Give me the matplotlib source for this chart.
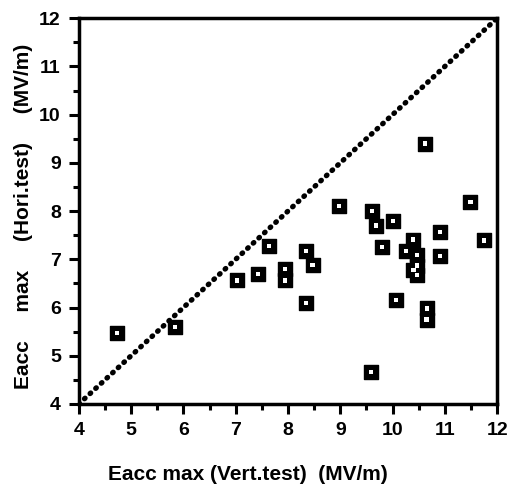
import matplotlib.pyplot as plt
from matplotlib.ticker import MultipleLocator

# Eacc max from vertical test vs horizontal test (MV/m)
vert_test = [4.73, 5.84, 7.02, 7.42, 7.63, 7.95, 7.95, 8.34, 8.47, 8.34,
             8.97, 9.61, 9.69, 10.01, 9.80, 9.59, 10.62, 11.49, 10.90, 11.75,
             10.90, 10.39, 10.26, 10.47, 10.47, 10.47, 10.40, 10.07, 10.66, 10.65]
hori_test = [5.47, 5.59, 6.56, 6.69, 7.27, 6.80, 6.56, 7.18, 6.89, 6.09,
             8.10, 8.01, 7.70, 7.79, 7.26, 4.66, 9.40, 8.19, 7.56, 7.39,
             7.07, 7.41, 7.18, 7.09, 6.87, 6.67, 6.78, 6.16, 5.98, 5.75]
diag = [4, 12]

plt.rcParams['font.family'] = ['Liberation Sans', 'DejaVu Sans']
plt.rcParams['font.weight'] = 'bold'

fig = plt.figure(figsize=(5.12, 4.92), dpi=100)
ax = fig.add_axes([0.154, 0.179, 0.817, 0.784])

# diagonal y = x
ax.plot(diag, diag, color='black', linestyle=(0, (0.15, 1.3)), linewidth=3.8,
        dash_capstyle='round')

# black squares with small white centre
ax.scatter(vert_test, hori_test, marker='s', s=90, color='black', zorder=3)
ax.scatter(vert_test, hori_test, marker='s', s=9, facecolor='white',
           edgecolor='none', zorder=4)

ax.set_xlim(4, 12)
ax.set_ylim(4, 12)
ax.xaxis.set_major_locator(MultipleLocator(1))
ax.yaxis.set_major_locator(MultipleLocator(1))
ax.xaxis.set_minor_locator(MultipleLocator(0.5))
ax.yaxis.set_minor_locator(MultipleLocator(0.5))
ax.tick_params(which='major', direction='out', length=7, width=2.2,
               labelsize=14, pad=6)
ax.tick_params(which='minor', direction='out', length=4, width=2.2)
for lbl in ax.get_xticklabels() + ax.get_yticklabels():
    lbl.set_fontweight('bold')
for sp in ax.spines.values():
    sp.set_linewidth(2.5)

ax.set_xlabel('Eacc max (Vert.test)  (MV/m)', fontsize=15, fontweight='bold',
              va='center')
ax.xaxis.set_label_coords(0.404, -0.184)
ax.set_ylabel('Eacc     max     (Hori.test)     (MV/m)', fontsize=15,
              fontweight='bold', va='center')
ax.yaxis.set_label_coords(-0.132, 0.487)

fig.savefig('out.png', dpi=100)
